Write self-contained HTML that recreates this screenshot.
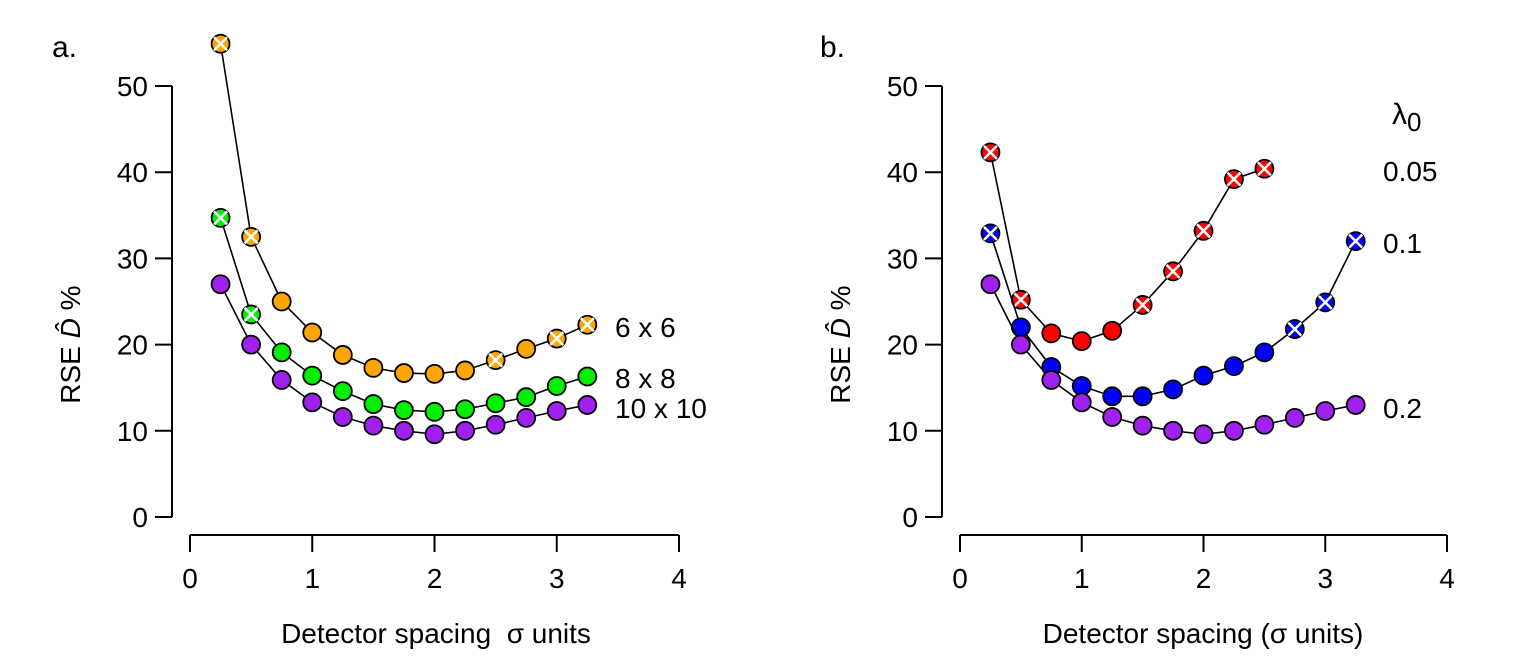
<!DOCTYPE html>
<html><head><meta charset="utf-8"><style>
html,body{margin:0;padding:0;background:#fff;}
svg{display:block;font-family:"Liberation Sans",sans-serif;}
</style></head><body>
<svg id="chart" width="1536" height="672" viewBox="0 0 1536 672" xmlns="http://www.w3.org/2000/svg"></svg>
<script>
const xs = [0.25,0.5,0.75,1,1.25,1.5,1.75,2,2.25,2.5,2.75,3,3.25];
const orangeA = [54.9,32.5,25.0,21.4,18.8,17.3,16.7,16.6,17.0,18.2,19.5,20.7,22.3];
const greenA = [34.7,23.5,19.1,16.4,14.6,13.1,12.4,12.2,12.5,13.2,13.9,15.2,16.3];
const purpleA = [27.0,20.0,15.9,13.3,11.6,10.6,10.0,9.6,10.0,10.7,11.5,12.3,13.0];
const orangeCross = [0,1,9,11,12];
const greenCross = [0,1];
const redB = [42.3,25.2,21.3,20.4,21.6,24.6,28.5,33.2,39.2,40.4];
const redCross = [0,1,5,6,7,8,9];
const blueB = [32.9,22.0,17.4,15.2,14.0,14.0,14.8,16.4,17.5,19.1,21.8,24.9,32.0];
const blueCross = [0,10,11,12];
const purpleB = purpleA;
const xTicks = [0,1,2,3,4];
const yTicks = [0,10,20,30,40,50];

const NS = "http://www.w3.org/2000/svg";
const svg = document.getElementById('chart');
function mk(tag, attrs, parent, text){
  const e = document.createElementNS(NS, tag);
  for (const k in attrs) e.setAttribute(k, attrs[k]);
  if (text !== undefined) e.textContent = text;
  (parent||svg).appendChild(e);
  return e;
}
const yS = v => 517 - v*8.62;

function panel(x0, unit, yAxisX, name){
  const g = mk('g', {});
  
  
  const xS = v => x0 + v*unit;
  const ya = mk('g', {}, g);
  
  
  mk('line', {x1:yAxisX,x2:yAxisX,y1:yS(0),y2:yS(50),stroke:'#000','stroke-width':2}, ya);
  yTicks.forEach(t=>{
    mk('line',{x1:yAxisX-17,x2:yAxisX,y1:yS(t),y2:yS(t),stroke:'#000','stroke-width':2},ya);
    const tx = mk('text',{x:yAxisX-24,y:yS(t)+10,'text-anchor':'end','font-size':28},ya,String(t));
    
    
  });
  const xa = mk('g', {}, g);
  
  
  mk('line',{x1:xS(0),x2:xS(4),y1:535,y2:535,stroke:'#000','stroke-width':2},xa);
  xTicks.forEach(t=>{
    mk('line',{x1:xS(t),x2:xS(t),y1:535,y2:552,stroke:'#000','stroke-width':2},xa);
    const tx = mk('text',{x:xS(t),y:588,'text-anchor':'middle','font-size':28},xa,String(t));
    
    
  });
  const yt = mk('text',{transform:`translate(${yAxisX-92},${yS(20)}) rotate(-90)`,'text-anchor':'middle','font-size':28},g);
  
  
  mk('tspan',{},yt,'RSE ');
  mk('tspan',{'font-style':'italic'},yt,'D\u0302');
  mk('tspan',{},yt,' %');
  return {g, xS};
}

function series(p, vals, color, crosses, name){
  const g = mk('g', {}, p.g);
  
  
  const pts = vals.map((v,i)=>[p.xS(xs[i]), yS(v)]);
  mk('polyline',{points:pts.map(q=>q.join(',')).join(' '),fill:'none',stroke:'#000','stroke-width':1.6},g);
  pts.forEach((q,i)=>{
    const c = mk('circle',{cx:q[0],cy:q[1],r:9,fill:color,stroke:'#000','stroke-width':1.8},g);
    
    
    if (crosses.includes(i)){
      const d=6.5;
      mk('path',{d:`M${q[0]-d},${q[1]-d}L${q[0]+d},${q[1]+d}M${q[0]-d},${q[1]+d}L${q[0]+d},${q[1]-d}`,stroke:'#fff','stroke-width':2.5},g);
    }
  });
}

const pa = panel(190, 122.25, 172, 'panel-a');
series(pa, orangeA, '#FFA500', orangeCross, 'series-6x6');
series(pa, greenA, '#00EE00', greenCross, 'series-8x8');
series(pa, purpleA, '#A020F0', [], 'series-10x10');
const pb = panel(960, 121.75, 942, 'panel-b');
series(pb, redB, '#FF0000', redCross, 'series-lambda-0.05');
series(pb, blueB, '#0000FF', blueCross, 'series-lambda-0.1');
series(pb, purpleB, '#A020F0', [], 'series-lambda-0.2');

function label(x,y,t,name,size,anchor){
  const e = mk('text',{x:x,y:y,'font-size':size||28,'text-anchor':anchor||'start'},svg,t);
  
  
  return e;
}
label(52,57,'a.','panel-a-label',30);
label(820,57,'b.','panel-b-label',30);
label(615,337,'6 x 6','label-6x6');
label(615,388,'8 x 8','label-8x8');
label(615,418,'10 x 10','label-10x10');
const lam = label(1392,124,'λ','legend-title-lambda0',30);
mk('tspan',{'font-size':26,dy:7},lam,'0');
label(1383,181,'0.05','label-0.05');
label(1383,253,'0.1','label-0.1');
label(1383,418,'0.2','label-0.2');
label(436,643,'Detector spacing\u00a0\u00a0σ units','x-axis-title-a',28,'middle');
label(1203,643,'Detector spacing (σ units)','x-axis-title-b',28,'middle');
</script>
</body></html>
